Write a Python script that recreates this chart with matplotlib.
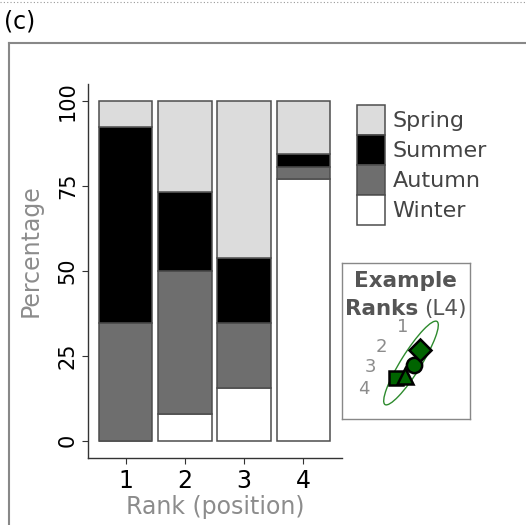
import numpy as np
import matplotlib
matplotlib.use("Agg")
import matplotlib.pyplot as plt
from matplotlib.patches import Ellipse
from matplotlib.lines import Line2D

# Data
ranks = [1, 2, 3, 4]
seasons = ["Winter", "Autumn", "Summer", "Spring"]  # bottom to top
winter = [0.0, 7.7, 15.4, 76.9]
autumn = [34.6, 42.3, 19.2, 3.8]
summer = [57.7, 23.1, 19.2, 3.8]
spring = [7.7, 26.9, 46.2, 15.4]
season_colors = {"Winter": "white", "Autumn": "#6e6e6e",
                 "Summer": "black", "Spring": "#dcdcdc"}

# inset: example positions (pixel units inside inset box)
ex_labels = ["1", "2", "3", "4"]
ex_label_x = [61, 39, 28, 22]
ex_label_y = [92, 72, 52, 30]
ex_markers = ["D", "o", "^", "s"]
ex_x = [78, 72, 63, 54]
ex_y = [69, 54, 43, 41]

W, H = 526, 525
fig = plt.figure(figsize=(W / 100, H / 100), dpi=100)
fig.patch.set_facecolor("white")


def fx(px):
    return px / W


def fy(py):
    return 1 - py / H


# outer frame + dotted top
fig.add_artist(Line2D([0, 1], [fy(2), fy(2)], transform=fig.transFigure,
                      color="#999999", lw=0.8, ls=(0, (1, 2))))
fig.add_artist(Line2D([fx(8.5), 1], [fy(43), fy(43)], transform=fig.transFigure,
                      color="#888888", lw=1.5))
fig.add_artist(Line2D([fx(8.5), fx(8.5)], [fy(43), 0], transform=fig.transFigure,
                      color="#888888", lw=1.5))
fig.text(fx(4), fy(22), "(c)", fontsize=17, ha="left", va="center", color="black")

# main axes
ax = fig.add_axes([fx(87.5), fy(457.5), 254 / W, 373.5 / H])
bottom = np.zeros(len(ranks))
handles = {}
for name, vals in zip(seasons, [winter, autumn, summer, spring]):
    b = ax.bar(ranks, vals, bottom=bottom, width=0.9, color=season_colors[name],
               edgecolor="#4d4d4d", linewidth=1.1, label=name)
    handles[name] = b
    bottom += np.array(vals)

ax.set_xlim(0.35, 4.65)
ax.set_ylim(-5, 105)
ax.set_xticks(ranks)
ax.set_yticks([0, 25, 50, 75, 100])
for s in ["top", "right"]:
    ax.spines[s].set_visible(False)
for s in ["left", "bottom"]:
    ax.spines[s].set_color("#333333")
    ax.spines[s].set_linewidth(1.0)
ax.tick_params(axis="both", colors="#333333", length=4, width=0.8,
               labelcolor="black", labelsize=15)
ax.tick_params(axis="x", pad=4, labelsize=17)
ax.tick_params(axis="y", pad=3)
for lab in ax.get_yticklabels():
    lab.set_rotation(90)
    lab.set_va("center")

fig.text(fx(31), fy(251), "Percentage", rotation=90, ha="center", va="center",
         fontsize=17, color="#8c8c8c")
fig.text(fx(215), fy(507), "Rank (position)", ha="center", va="center",
         fontsize=17, color="#8c8c8c")

# legend
order = ["Spring", "Summer", "Autumn", "Winter"]
fig.legend([handles[n] for n in order], order, loc="upper left",
           bbox_to_anchor=(fx(357), fy(105)), frameon=False, fontsize=16,
           handlelength=1.25, handleheight=1.7, labelspacing=0,
           handletextpad=0.35, borderpad=0, borderaxespad=0,
           labelcolor="#444444")

# inset
iax = fig.add_axes([fx(342), fy(419), 128 / W, 156 / H])
iax.set_xlim(0, 128)
iax.set_ylim(0, 156)
iax.set_xticks([])
iax.set_yticks([])
for s in iax.spines.values():
    s.set_color("#888888")
    s.set_linewidth(1.0)
iax.text(63, 132, "Example", ha="center", va="baseline", fontsize=15.5,
         fontweight="bold", color="#555555")
iax.text(76, 104, "Ranks", ha="right", va="baseline", fontsize=15.5,
         fontweight="bold", color="#555555")
iax.text(82, 104, "(L4)", ha="left", va="baseline", fontsize=15.5,
         color="#555555")
for t, x, y in zip(ex_labels, ex_label_x, ex_label_y):
    iax.text(x, y, t, ha="center", va="center", fontsize=13, color="#8c8c8c")
iax.add_patch(Ellipse((69, 56), 98, 20, angle=58, fill=False,
                      edgecolor="#2e8b2e", lw=1.0))
for m, x, y, ms in zip(ex_markers[::-1], ex_x[::-1], ex_y[::-1], [10, 11, 11, 11]):
    iax.plot(x, y, marker=m, ms=ms, color="#006400", mec="black", mew=1.8,
             ls="none")

fig.savefig("out.png", dpi=100)
